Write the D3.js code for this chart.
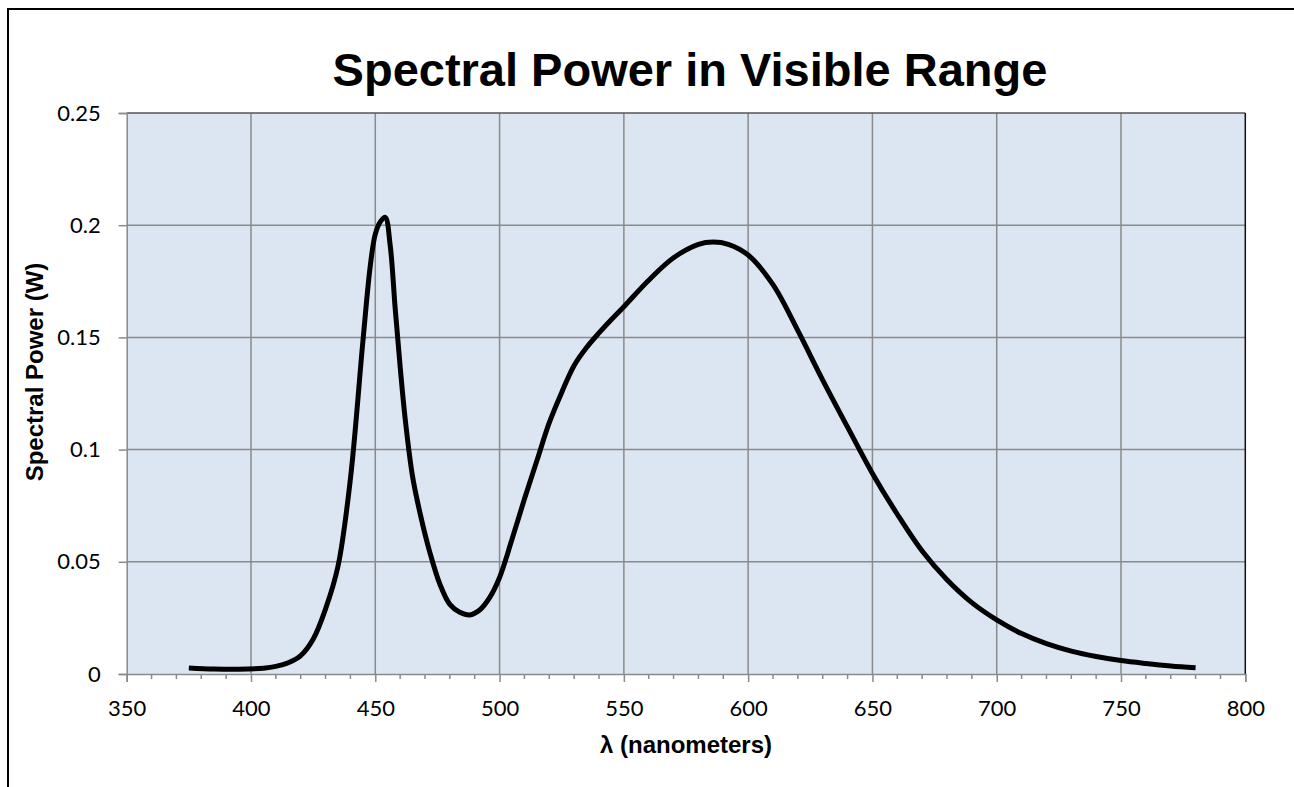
<!DOCTYPE html>
<html>
<head>
<meta charset="utf-8">
<script src="https://cdn.jsdelivr.net/npm/d3@7"></script>
<style>
  html, body { margin: 0; padding: 0; background: #fff; }
  svg { display: block; }
</style>
</head>
<body>
<svg id="chart" width="1294" height="787"></svg>
<script>
// ---- Data ----
const wavelengths = [375,385,395,405,410,415,420,425,430,435,440,445,448,450,452,454,456,458,460,462,465,468,472,476,480,484,488,492,496,500,505,510,515,520,525,530,535,540,545,550,560,570,580,586,592,600,610,620,630,640,650,660,670,680,690,700,710,720,730,740,750,760,770,780];
const power = [0.0027,0.0022,0.0021,0.0026,0.0034,0.0050,0.0082,0.0155,0.029,0.048,0.087,0.148,0.182,0.196,0.2015,0.2035,0.191,0.163,0.137,0.114,0.088,0.0717,0.054,0.040,0.031,0.0275,0.0263,0.0285,0.034,0.043,0.060,0.078,0.095,0.112,0.1255,0.1375,0.1455,0.152,0.158,0.1637,0.1755,0.1855,0.1915,0.1925,0.1915,0.1867,0.1735,0.153,0.131,0.110,0.0894,0.0712,0.0548,0.042,0.0318,0.0241,0.018,0.0135,0.0102,0.0078,0.0060,0.0047,0.0036,0.0028];
const xTicks = [350,400,450,500,550,600,650,700,750,800];
const xMinorTicks = d3.range(350, 801, 10);
const yTicks = [0,0.05,0.1,0.15,0.2,0.25];
const yTickLabels = ["0","0.05","0.1","0.15","0.2","0.25"];
const chartTitle = "Spectral Power in Visible Range";
const xTitle = "λ (nanometers)";
const yTitle = "Spectral Power (W)";

// ---- Layout ----
const svg = d3.select("#chart");
const plot = { left: 126.7, right: 1245.3, top: 113, bottom: 674 };
const x = d3.scaleLinear().domain([350, 800]).range([plot.left, plot.right]);
const y = d3.scaleLinear().domain([0, 0.25]).range([plot.bottom, plot.top]);

// outer chart border (extends beyond the window on right/bottom)
svg.append("rect")
  .attr("x", 8).attr("y", 9).attr("width", 1310).attr("height", 820)
  .attr("fill", "#fff").attr("stroke", "#000").attr("stroke-width", 2);

// plot background
svg.append("rect")
  .attr("x", plot.left).attr("y", plot.top)
  .attr("width", plot.right - plot.left).attr("height", plot.bottom - plot.top)
  .attr("fill", "#dce6f2");

const gridColor = "#8a8a8a";
// vertical gridlines
svg.append("g").selectAll("line")
  .data(xTicks.filter(d => d > 350 && d < 800))
  .join("line")
  .attr("x1", d => x(d)).attr("x2", d => x(d))
  .attr("y1", plot.top).attr("y2", plot.bottom)
  .attr("stroke", gridColor).attr("stroke-width", 1.5);
// horizontal gridlines
svg.append("g").selectAll("line")
  .data(yTicks.filter(d => d > 0 && d < 0.25))
  .join("line")
  .attr("x1", plot.left).attr("x2", plot.right)
  .attr("y1", d => y(d)).attr("y2", d => y(d))
  .attr("stroke", gridColor).attr("stroke-width", 1.5);

// top & right borders of plot area
svg.append("line")
  .attr("x1", plot.left).attr("x2", plot.right)
  .attr("y1", plot.top).attr("y2", plot.top)
  .attr("stroke", "#555").attr("stroke-width", 1.5);
svg.append("line")
  .attr("x1", plot.right).attr("x2", plot.right)
  .attr("y1", plot.top).attr("y2", plot.bottom)
  .attr("stroke", "#111").attr("stroke-width", 1.5);

const tickFont = "Lato, 'Open Sans', sans-serif";

// X axis
const xAxis = d3.axisBottom(x).tickValues(xTicks).tickSize(8).tickPadding(18).tickFormat(d3.format("d"));
const gx = svg.append("g").attr("transform", `translate(0,${plot.bottom})`).call(xAxis);
gx.select(".domain").attr("stroke", gridColor).attr("stroke-width", 1.5);
gx.selectAll(".tick line").attr("stroke", gridColor).attr("stroke-width", 1.5);
gx.selectAll(".tick text").attr("font-family", tickFont).attr("font-size", 22).attr("fill", "#000");
// minor x ticks
svg.append("g").selectAll("line")
  .data(xMinorTicks.filter(d => d % 50 !== 0))
  .join("line")
  .attr("x1", d => x(d)).attr("x2", d => x(d))
  .attr("y1", plot.bottom).attr("y2", plot.bottom + 5)
  .attr("stroke", gridColor).attr("stroke-width", 1.5);

// Y axis
const yAxis = d3.axisLeft(y).tickValues(yTicks).tickSize(8).tickPadding(18)
  .tickFormat((d, i) => yTickLabels[i]);
const gy = svg.append("g").attr("transform", `translate(${plot.left},0)`).call(yAxis);
gy.select(".domain").attr("stroke", gridColor).attr("stroke-width", 1.5);
gy.selectAll(".tick line").attr("stroke", gridColor).attr("stroke-width", 1.5);
gy.selectAll(".tick text").attr("font-family", tickFont).attr("font-size", 22).attr("fill", "#000");

// curve
const line = d3.line()
  .x((d, i) => x(wavelengths[i]))
  .y((d, i) => y(power[i]))
  .curve(d3.curveCatmullRom.alpha(0.5));
svg.append("path")
  .datum(power)
  .attr("d", line)
  .attr("fill", "none")
  .attr("stroke", "#000")
  .attr("stroke-width", 5)
  .attr("stroke-linejoin", "round");

// titles
svg.append("text")
  .attr("x", 690).attr("y", 86)
  .attr("text-anchor", "middle")
  .attr("font-family", "'Liberation Sans', Arial, sans-serif")
  .attr("font-weight", "bold").attr("font-size", 47)
  .text(chartTitle);

svg.append("text")
  .attr("x", (plot.left + plot.right) / 2).attr("y", 753)
  .attr("text-anchor", "middle")
  .attr("font-family", "'Liberation Sans', Arial, sans-serif")
  .attr("font-weight", "bold").attr("font-size", 24)
  .text(xTitle);

svg.append("text")
  .attr("transform", `translate(43,372) rotate(-90)`)
  .attr("text-anchor", "middle")
  .attr("font-family", "'Liberation Sans', Arial, sans-serif")
  .attr("font-weight", "bold").attr("font-size", 24)
  .text(yTitle);
</script>
</body>
</html>
